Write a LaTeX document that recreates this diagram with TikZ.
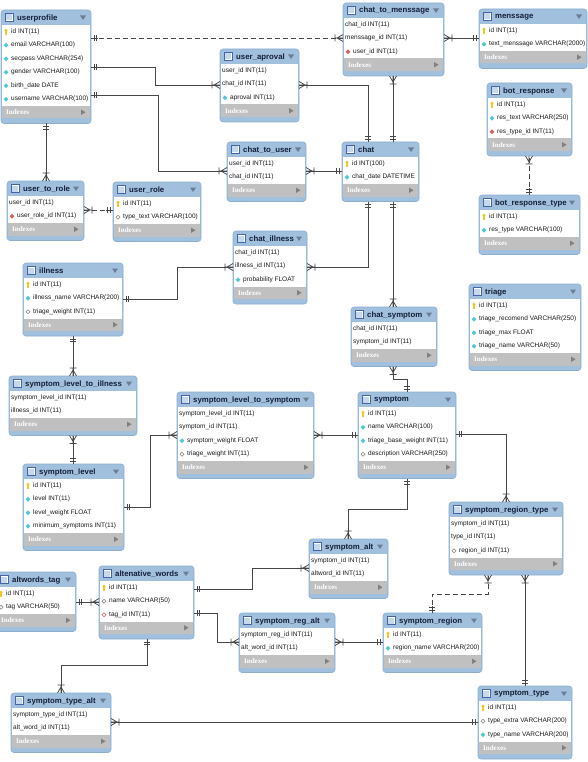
\documentclass[tikz,border=0pt]{standalone}
\usepackage{fontspec}
\setmainfont{Liberation Sans}
\newfontfamily\idxserif{Liberation Serif}
\usetikzlibrary{arrows.meta}
\definecolor{hblue}{RGB}{160,192,221}
\definecolor{bblue}{RGB}{140,175,208}
\definecolor{idxgray}{RGB}{192,192,192}
\definecolor{ttl}{RGB}{20,30,55}
\definecolor{relc}{RGB}{70,70,70}
\definecolor{keyy}{RGB}{240,200,40}
\definecolor{nnc}{RGB}{80,200,215}
\definecolor{fkc}{RGB}{215,95,95}
\definecolor{tric}{RGB}{110,125,145}
\definecolor{icb}{RGB}{70,100,170}

\pgfdeclarearrow{
  name=Crow,
  setup code={
    \pgfarrowssettipend{0pt}
    \pgfarrowssetlineend{0pt}
    \pgfarrowssetbackend{-8.5pt}
    \pgfarrowssetvisualbackend{-8.5pt}
    \pgfarrowshullpoint{0pt}{3.5pt}
    \pgfarrowshullpoint{0pt}{-3.5pt}
    \pgfarrowshullpoint{-8.5pt}{3.5pt}
    \pgfarrowshullpoint{-8.5pt}{-3.5pt}
  },
  drawing code={
    \pgfsetdash{}{0pt}
    \pgfpathmoveto{\pgfqpoint{0pt}{3.5pt}}
    \pgfpathlineto{\pgfqpoint{-6pt}{0pt}}
    \pgfpathlineto{\pgfqpoint{0pt}{-3.5pt}}
    \pgfpathmoveto{\pgfqpoint{0pt}{0pt}}
    \pgfpathlineto{\pgfqpoint{-8.5pt}{0pt}}
    \pgfpathmoveto{\pgfqpoint{-8pt}{3.5pt}}
    \pgfpathlineto{\pgfqpoint{-8pt}{-3.5pt}}
    \pgfusepathqstroke
  }
}
\pgfdeclarearrow{
  name=One,
  setup code={
    \pgfarrowssettipend{0pt}
    \pgfarrowssetlineend{0pt}
    \pgfarrowssetbackend{-7pt}
    \pgfarrowssetvisualbackend{-7pt}
    \pgfarrowshullpoint{0pt}{3pt}
    \pgfarrowshullpoint{0pt}{-3pt}
    \pgfarrowshullpoint{-7pt}{3pt}
    \pgfarrowshullpoint{-7pt}{-3pt}
  },
  drawing code={
    \pgfsetdash{}{0pt}
    \pgfpathmoveto{\pgfqpoint{0pt}{0pt}}
    \pgfpathlineto{\pgfqpoint{-7pt}{0pt}}
    \pgfpathmoveto{\pgfqpoint{-3pt}{3pt}}
    \pgfpathlineto{\pgfqpoint{-3pt}{-3pt}}
    \pgfpathmoveto{\pgfqpoint{-5.5pt}{3pt}}
    \pgfpathlineto{\pgfqpoint{-5.5pt}{-3pt}}
    \pgfusepathqstroke
  }
}

\tikzset{
  tbox/.style={draw=bblue, fill=hblue, rounded corners=3pt, inner sep=0pt,
    outer sep=0pt, anchor=north west, line width=0.6pt},
  rowfont/.style={font=\fontsize{6.5}{7.2}\selectfont, text=black!90, inner sep=0pt, anchor=west},
  titlefont/.style={font=\fontsize{7.8}{9}\selectfont\bfseries, text=ttl, inner sep=0pt, anchor=west},
  idxfont/.style={font=\idxserif\bfseries\fontsize{7}{8}\selectfont, text=white, inner sep=0pt, anchor=west},
  rel/.style={draw=relc, line width=0.75pt},
  reldash/.style={rel, dash pattern=on 5pt off 3pt},
}

\def\offnone{2}\def\offkey{10}\def\offnn{10}\def\offnull{10}\def\offfk{10}\def\offfkn{10}
\newcommand\iconnone[2]{}
\newcommand\iconkey[2]{%
  \fill[keyy] (#1,#2-1.4) circle (1.7pt);
  \fill[keyy] (#1-0.6,#2-0.5) rectangle (#1+0.6,#2+3.2);}
\newcommand\iconnn[2]{%
  \fill[nnc] (#1,#2-2.3) -- (#1+2.3,#2) -- (#1,#2+2.3) -- (#1-2.3,#2) -- cycle;}
\newcommand\iconnull[2]{%
  \filldraw[fill=white, draw=gray, line width=0.4pt] (#1,#2-2) -- (#1+2,#2) -- (#1,#2+2) -- (#1-2,#2) -- cycle;}
\newcommand\iconfk[2]{%
  \fill[fkc] (#1,#2-2.3) -- (#1+2.3,#2) -- (#1,#2+2.3) -- (#1-2.3,#2) -- cycle;}
\newcommand\iconfkn[2]{%
  \filldraw[fill=white, draw=fkc, line width=0.4pt] (#1,#2-2) -- (#1+2,#2) -- (#1,#2+2) -- (#1-2,#2) -- cycle;}

% #1 name #2 x1 #3 y1 #4 x2 #5 nrows #6 title #7 rows
\newcommand\tbl[7]{%
  \pgfmathsetmacro\tw{#4-(#2)}%
  \pgfmathsetmacro\th{32.5+13.5*#5}%
  \pgfmathsetmacro\yr{#3+15+13.5*#5}%
  \node[tbox, minimum width=\tw pt, minimum height=\th pt] (#1) at (#2,#3) {};
  \fill[white] (#2+1,#3+15) rectangle (#4-1,\yr);
  \fill[idxgray] (#2+1,\yr) rectangle (#4-1,\yr+12.5);
  \filldraw[fill=white, draw=icb, line width=0.5pt] (#2+4,#3+3.5) rectangle (#2+12,#3+11.5);
  \fill[hblue!60] (#2+5,#3+4.5) rectangle (#2+11,#3+10.5);
  \node[titlefont] (#1-t) at (#2+16,#3+8) {#6};
  \fill[tric] (#4-11,#3+5.5) -- (#4-5,#3+5.5) -- (#4-8,#3+10) -- cycle;
  \node[idxfont] (#1-i) at (#2+5,\yr+6.5) {Indexes};
  \fill[gray] (#4-10,\yr+3.5) -- (#4-10,\yr+9) -- (#4-5.5,\yr+6.25) -- cycle;
  \foreach \ic/\txt [count=\i] in {#7} {%
    \pgfmathsetmacro\yc{#3+15+13.5*(\i-0.5)}%
    \edef\toff{\csname off\ic\endcsname}%
    \csname icon\ic\endcsname{#2+5}{\yc}%
    \node[rowfont] (#1-r\i) at (#2+\toff,\yc) {\txt};
  }%
}

\begin{document}
\catcode`\_=12
\begin{tikzpicture}[x=1pt,y=-1pt]
\fill[white] (0,0) rectangle (588,762);
\useasboundingbox (0,0) rectangle (588,762);

\tbl{userprofile}{1}{10}{91}{6}{userprofile}{key/id INT(11),nn/email VARCHAR(100),nn/secpass VARCHAR(254),nn/gender VARCHAR(100),nn/birth_date DATE,nn/username VARCHAR(100)}
\tbl{usertorole}{7}{181}{84}{2}{user_to_role}{none/user_id INT(11),fk/user_role_id INT(11)}
\tbl{userrole}{113}{182}{201}{2}{user_role}{key/id INT(11),null/type_text VARCHAR(100)}
\tbl{useraproval}{220}{49}{299}{3}{user_aproval}{none/user_id INT(11),none/chat_id INT(11),nn/aproval INT(11)}
\tbl{ctm}{343}{3}{444}{3}{chat_to_menssage}{none/chat_id INT(11),none/menssage_id INT(11),fk/user_id INT(11)}
\tbl{menssage}{479}{9}{587}{2}{menssage}{key/id INT(11),nn/text_menssage VARCHAR(2000)}
\tbl{botresponse}{487}{83}{572}{3}{bot_response}{key/id INT(11),nn/res_text VARCHAR(250),fk/res_type_id INT(11)}
\tbl{botresponsetype}{479}{195}{580}{2}{bot_response_type}{key/id INT(11),nn/res_type VARCHAR(100)}
\tbl{chattouser}{227}{142}{306}{2}{chat_to_user}{none/user_id INT(11),none/chat_id INT(11)}
\tbl{chat}{342}{142}{419}{2}{chat}{key/id INT(100),nn/chat_date DATETIME}
\tbl{chatillness}{233}{231}{307}{3}{chat_illness}{none/chat_id INT(11),none/illness_id INT(11),nn/probability FLOAT}
\tbl{illness}{23}{263}{123}{3}{illness}{key/id INT(11),nn/illness_name VARCHAR(200),null/triage_weight INT(11)}
\tbl{sltoi}{9}{376}{137}{2}{symptom_level_to_illness}{none/symptom_level_id INT(11),none/illness_id INT(11)}
\tbl{chatsymptom}{351}{307}{437}{2}{chat_symptom}{none/chat_id INT(11),none/symptom_id INT(11)}
\tbl{triage}{469}{284}{581}{4}{triage}{key/id INT(11),nn/triage_recomend VARCHAR(250),nn/triage_max FLOAT,nn/triage_name VARCHAR(50)}
\tbl{sltos}{177}{392}{314}{4}{symptom_level_to_symptom}{none/symptom_level_id INT(11),none/symptom_id INT(11),nn/symptom_weight FLOAT,null/triage_weight INT(11)}
\tbl{symptom}{358}{392}{456}{4}{symptom}{key/id INT(11),nn/name VARCHAR(100),nn/triage_base_weight INT(11),null/description VARCHAR(250)}
\tbl{symptomlevel}{23}{464}{124}{4}{symptom_level}{key/id INT(11),nn/level INT(11),nn/level_weight FLOAT,nn/minimum_symptoms INT(11)}
\tbl{srt}{449}{502}{563}{3}{symptom_region_type}{none/symptom_id INT(11),none/type_id INT(11),null/region_id INT(11)}
\tbl{symptomalt}{309}{539}{388}{2}{symptom_alt}{none/symptom_id INT(11),none/altword_id INT(11)}
\tbl{altwordstag}{-4}{572}{76}{2}{altwords_tag}{key/id INT(11),null/tag VARCHAR(50)}
\tbl{altwords}{99}{566}{194}{3}{altenative_words}{key/id INT(11),null/name VARCHAR(50),fkn/tag_id INT(11)}
\tbl{symptomregalt}{239}{613}{335}{2}{symptom_reg_alt}{none/symptom_reg_id INT(11),none/alt_word_id INT(11)}
\tbl{symptomregion}{383}{613}{482}{2}{symptom_region}{key/id INT(11),nn/region_name VARCHAR(200)}
\tbl{sta}{11}{693}{111}{2}{symptom_type_alt}{none/symptom_type_id INT(11),none/alt_word_id INT(11)}
\tbl{symptomtype}{478}{686}{572}{3}{symptom_type}{key/id INT(11),null/type_extra VARCHAR(200),nn/type_name VARCHAR(200)}

% relationships
\draw[reldash, One-Crow] (userprofile.east |- 0,38) -- (ctm.west |- 0,38);
\draw[rel, One-Crow] (userprofile.east |- 0,67) -- (155,67) -- (155,85) -- (useraproval.west |- 0,85);
\draw[rel, One-Crow] (userprofile.east |- 0,95) -- (158,95) -- (158,171) -- (chattouser.west |- 0,171);
\draw[rel, One-Crow] (userprofile.south -| 46,0) -- (usertorole.north -| 46,0);
\draw[reldash, One-Crow] (userrole.west |- 0,210) -- (usertorole.east |- 0,210);
\draw[rel, One-Crow] (chat.north -| 368,0) -- (368,85) -- (useraproval.east |- 0,85);
\draw[rel, One-Crow] (chat.north -| 393,0) -- (ctm.south -| 393,0);
\draw[rel, One-Crow] (menssage.west |- 0,38) -- (ctm.east |- 0,38);
\draw[rel, One-Crow] (chat.west |- 0,171) -- (chattouser.east |- 0,171);
\draw[reldash, One-Crow] (botresponsetype.north -| 529,0) -- (botresponse.south -| 529,0);
\draw[rel, One-Crow] (chat.south -| 368,0) -- (368,267) -- (chatillness.east |- 0,267);
\draw[rel, One-Crow] (chat.south -| 393,0) -- (chatsymptom.north -| 393,0);
\draw[rel, One-Crow] (illness.east |- 0,299) -- (177,299) -- (177,267) -- (chatillness.west |- 0,267);
\draw[rel, One-Crow] (illness.south -| 73,0) -- (sltoi.north -| 73,0);
\draw[rel, One-Crow] (symptomlevel.north -| 73,0) -- (sltoi.south -| 73,0);
\draw[rel, One-Crow] (symptomlevel.east |- 0,507) -- (150,507) -- (150,435) -- (sltos.west |- 0,435);
\draw[rel, One-Crow] (symptom.west |- 0,435) -- (sltos.east |- 0,435);
\draw[rel, One-Crow] (symptom.north -| 407,0) -- (407,379) -- (393,379) -- (chatsymptom.south -| 393,0);
\draw[rel, One-Crow] (symptom.east |- 0,434) -- (506,434) -- (srt.north -| 506,0);
\draw[rel, One-Crow] (symptom.south -| 407,0) -- (407,509) -- (348,509) -- (symptomalt.north -| 348,0);
\draw[reldash, One-Crow] (symptomregion.north -| 432,0) -- (432,594) -- (488,594) -- (srt.south -| 488,0);
\draw[rel, One-Crow] (symptomtype.north -| 525,0) -- (srt.south -| 525,0);
\draw[rel, One-Crow] (altwordstag.east |- 0,602) -- (altwords.west |- 0,602);
\draw[rel, One-Crow] (altwords.east |- 0,589) -- (252,589) -- (252,568) -- (symptomalt.west |- 0,568);
\draw[rel, One-Crow] (altwords.east |- 0,613) -- (217,613) -- (217,642) -- (symptomregalt.west |- 0,642);
\draw[rel, One-Crow] (symptomregion.west |- 0,642) -- (symptomregalt.east |- 0,642);
\draw[rel, One-Crow] (altwords.south -| 147,0) -- (147,665) -- (61,665) -- (sta.north -| 61,0);
\draw[rel, One-Crow] (symptomtype.west |- 0,722) -- (sta.east |- 0,722);
\end{tikzpicture}
\end{document}
